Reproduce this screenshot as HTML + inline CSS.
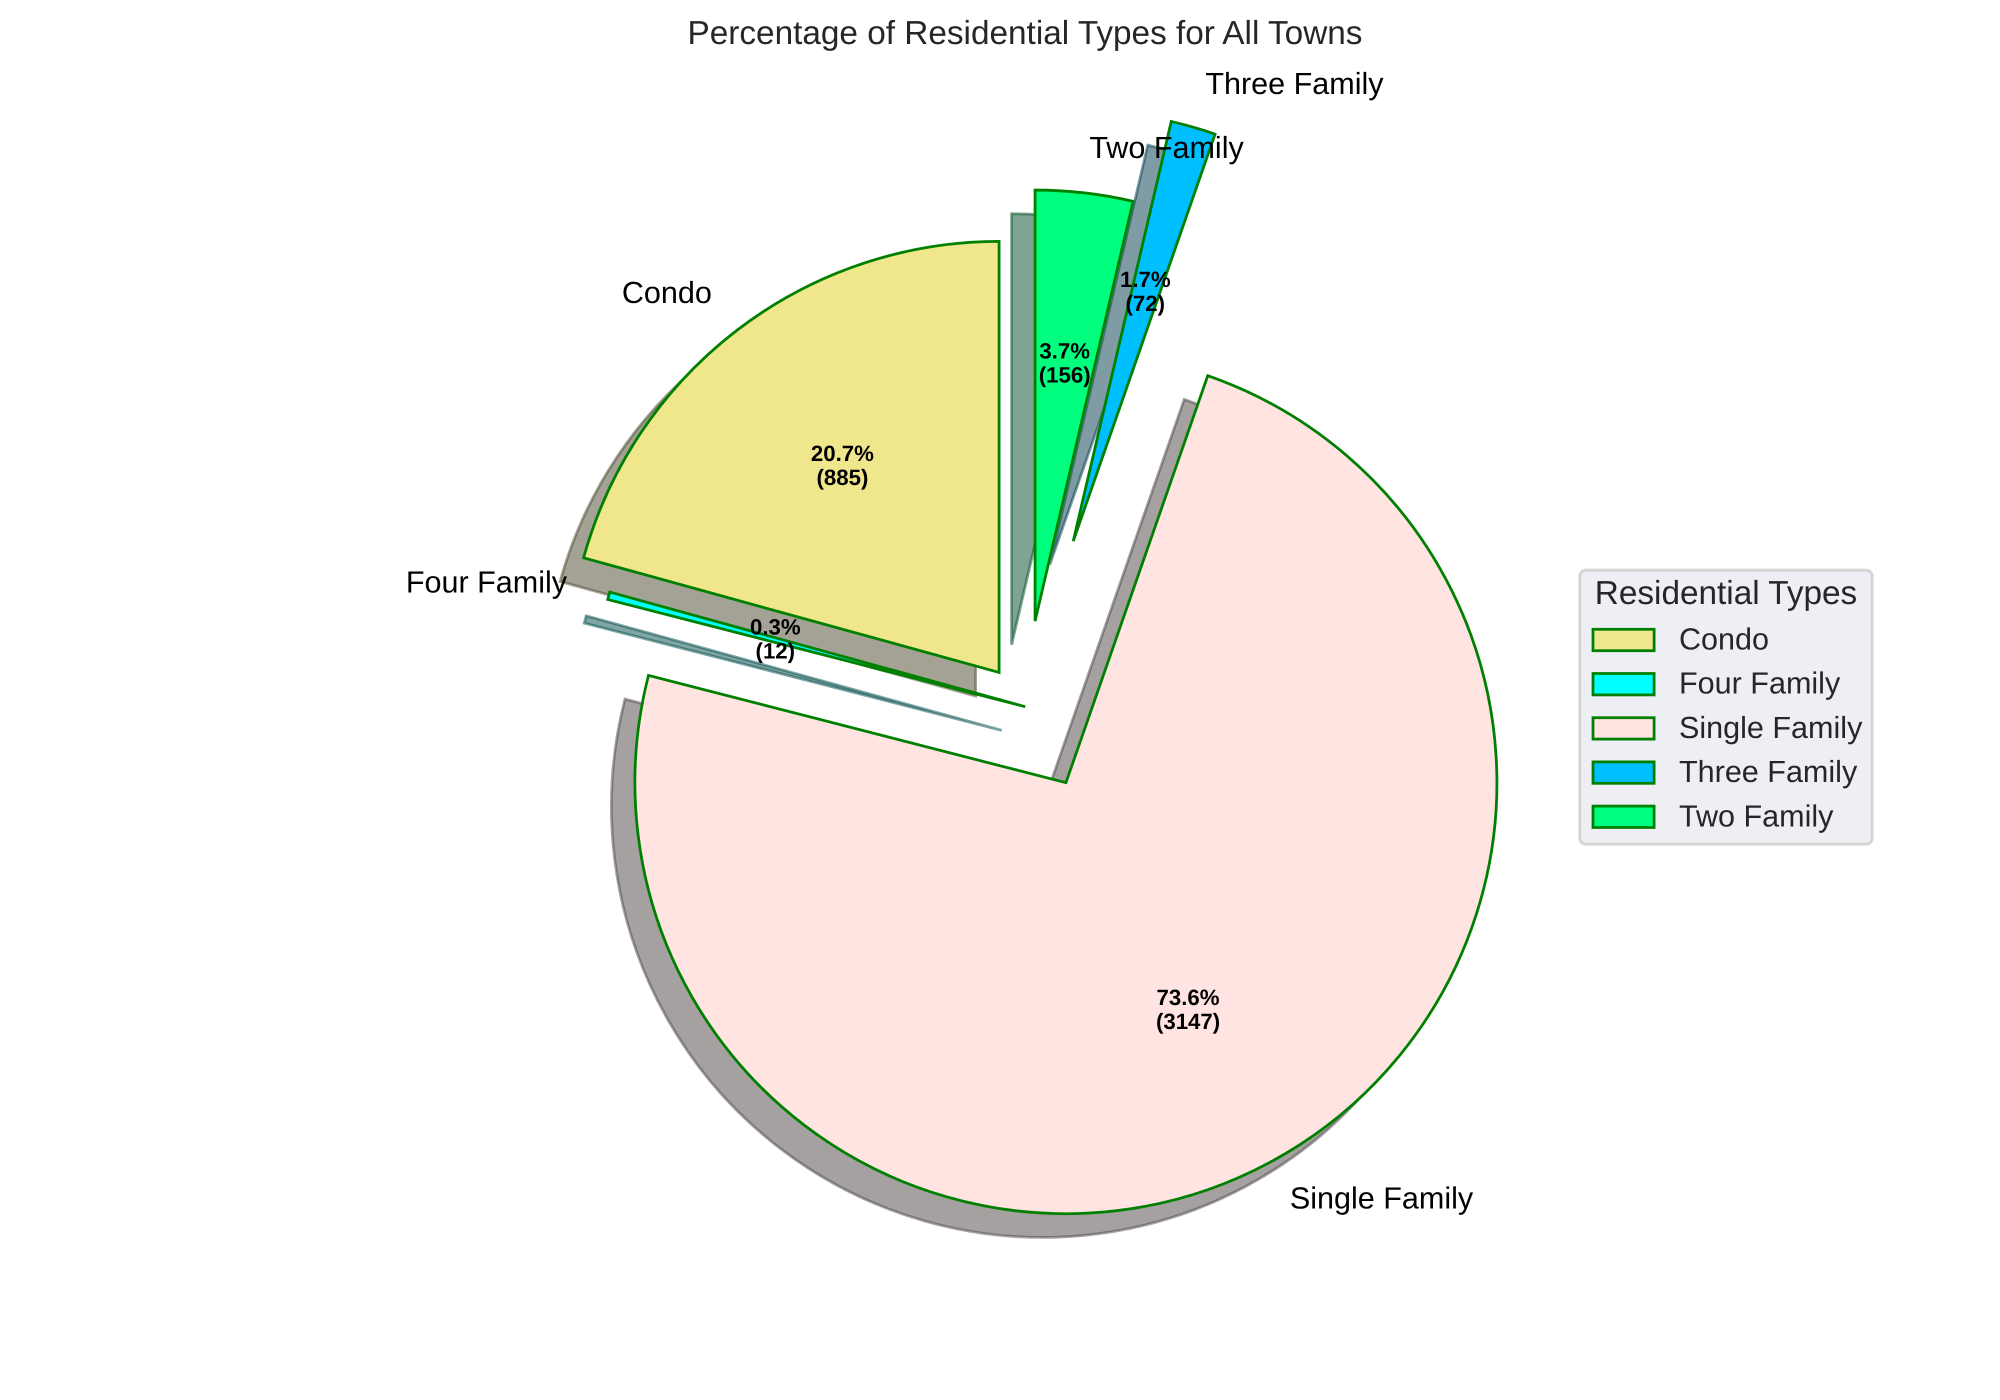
<!DOCTYPE html>
<html lang="en">
<head>
<meta charset="utf-8">
<title>Percentage of Residential Types for All Towns</title>
<style>
  html, body { margin: 0; padding: 0; background: #ffffff; }
  svg { display: block; font-family: "Liberation Sans", Arial, sans-serif; text-rendering: geometricPrecision; }
</style>
</head>
<body>
<svg id="chart" xmlns="http://www.w3.org/2000/svg" width="2000" height="1400" viewBox="0 0 2000 1400">
  <rect x="0" y="0" width="2000" height="1400" fill="#ffffff"/>
  <text x="1025" y="44" text-anchor="middle" font-size="33.33" fill="#262626">Percentage of Residential Types for All Towns</text>
  <g id="shadows"></g>
  <g id="wedges"></g>
  <g id="labels"></g>
  <g id="legend">
    <rect x="1579.8" y="570.2" width="292.4" height="274" rx="6" ry="6" fill="#EAEAF2" fill-opacity="0.8" stroke="#CCCCCC" stroke-opacity="0.8" stroke-width="2.78"/>
    <text x="1726" y="604" text-anchor="middle" font-size="33.33" fill="#262626">Residential Types</text>
  </g>
</svg>
<script>
const categories = ['Condo', 'Four Family', 'Single Family', 'Three Family', 'Two Family'];
const counts = [885, 12, 3147, 72, 156];
const percentLabels = ['20.7%', '0.3%', '73.6%', '1.7%', '3.7%'];
const explodeFractions = [0.1, 0, 0.2, 0.4, 0.2];
const sliceColors = { 'Condo': '#F0E68C', 'Four Family': '#00FFFF', 'Single Family': '#FFE4E1', 'Three Family': '#00BFFF', 'Two Family': '#00FF7F' };
const shadowColors = { 'Condo': '#48452A', 'Four Family': '#004C4C', 'Single Family': '#4C4443', 'Three Family': '#00394C', 'Two Family': '#004C26' };

const SVG_NS = 'http://www.w3.org/2000/svg';
const PIE_CX = 1025.2, PIE_CY = 706.7, PIE_R = 431;
const SHADOW_DX = -23.5, SHADOW_DY = 23.7;
const START_ANGLE = 90;
const EDGE = '#008000', EDGE_W = 2.78;

function xAt(cx, radius, deg) { return cx + radius * Math.cos(deg * Math.PI / 180); }
function yAt(cy, radius, deg) { return cy - radius * Math.sin(deg * Math.PI / 180); }
function slug(s) { return s.toLowerCase().replace(/\s+/g, '-'); }

function wedgePath(ax, ay, a0, a1) {
  const large = (a1 - a0) > 180 ? 1 : 0;
  return 'M' + ax.toFixed(2) + ' ' + ay.toFixed(2) +
    'L' + xAt(ax, PIE_R, a0).toFixed(2) + ' ' + yAt(ay, PIE_R, a0).toFixed(2) +
    'A' + PIE_R + ' ' + PIE_R + ' 0 ' + large + ' 0 ' + xAt(ax, PIE_R, a1).toFixed(2) + ' ' + yAt(ay, PIE_R, a1).toFixed(2) + 'Z';
}

const shadowsG = document.getElementById('shadows');
const wedgesG = document.getElementById('wedges');
const labelsG = document.getElementById('labels');
const legendG = document.getElementById('legend');
const total = counts.reduce(function (a, b) { return a + b; }, 0);

let angle = START_ANGLE;
categories.forEach(function (cat, i) {
  const sweep = counts[i] / total * 360;
  const a0 = angle, a1 = angle + sweep, mid = (a0 + a1) / 2;
  angle = a1;
  const ax = xAt(PIE_CX, explodeFractions[i] * PIE_R, mid);
  const ay = yAt(PIE_CY, explodeFractions[i] * PIE_R, mid);
  const name = slug(cat);

  const sh = document.createElementNS(SVG_NS, 'path');
  
  
  sh.setAttribute('d', wedgePath(ax + SHADOW_DX, ay + SHADOW_DY, a0, a1));
  sh.setAttribute('fill', shadowColors[cat]);
  sh.setAttribute('fill-opacity', '0.5');
  sh.setAttribute('stroke', shadowColors[cat]);
  sh.setAttribute('stroke-opacity', '0.5');
  sh.setAttribute('stroke-width', EDGE_W);
  sh.setAttribute('stroke-linejoin', 'miter');
  sh.setAttribute('stroke-miterlimit', '4');
  shadowsG.appendChild(sh);

  const w = document.createElementNS(SVG_NS, 'path');
  
  
  w.setAttribute('d', wedgePath(ax, ay, a0, a1));
  w.setAttribute('fill', sliceColors[cat]);
  w.setAttribute('stroke', EDGE);
  w.setAttribute('stroke-width', EDGE_W);
  w.setAttribute('stroke-linejoin', 'miter');
  w.setAttribute('stroke-miterlimit', '4');
  wedgesG.appendChild(w);

  const onLeft = xAt(0, 1, mid) < 0;
  const lab = document.createElementNS(SVG_NS, 'text');
  
  
  lab.setAttribute('x', xAt(ax, 1.1 * PIE_R, mid).toFixed(2));
  lab.setAttribute('y', (yAt(ay, 1.1 * PIE_R, mid) + 8).toFixed(2));
  lab.setAttribute('text-anchor', onLeft ? 'end' : 'start');
  lab.setAttribute('font-size', '30.56');
  lab.setAttribute('fill', '#000000');
  lab.textContent = cat;
  labelsG.appendChild(lab);

  const px = xAt(ax, 0.6 * PIE_R, mid);
  const py = yAt(ay, 0.6 * PIE_R, mid);
  const pct = document.createElementNS(SVG_NS, 'text');
  
  
  pct.setAttribute('x', px.toFixed(2));
  pct.setAttribute('y', (py - 5.8).toFixed(2));
  pct.setAttribute('text-anchor', 'middle');
  pct.setAttribute('font-size', '22.22');
  pct.setAttribute('font-weight', 'bold');
  pct.setAttribute('fill', '#000000');
  pct.textContent = percentLabels[i];
  labelsG.appendChild(pct);

  const cnt = document.createElementNS(SVG_NS, 'text');
  
  
  cnt.setAttribute('x', px.toFixed(2));
  cnt.setAttribute('y', (py + 18.2).toFixed(2));
  cnt.setAttribute('text-anchor', 'middle');
  cnt.setAttribute('font-size', '22.22');
  cnt.setAttribute('font-weight', 'bold');
  cnt.setAttribute('fill', '#000000');
  cnt.textContent = '(' + counts[i] + ')';
  labelsG.appendChild(cnt);

  const swatchCy = 640 + i * 44.2;
  const sw = document.createElementNS(SVG_NS, 'rect');
  
  
  sw.setAttribute('x', '1593');
  sw.setAttribute('y', (swatchCy - 10.7).toFixed(2));
  sw.setAttribute('width', '61.1');
  sw.setAttribute('height', '21.4');
  sw.setAttribute('fill', sliceColors[cat]);
  sw.setAttribute('stroke', EDGE);
  sw.setAttribute('stroke-width', EDGE_W);
  legendG.appendChild(sw);

  const lt = document.createElementNS(SVG_NS, 'text');
  
  
  lt.setAttribute('x', '1679');
  lt.setAttribute('y', (swatchCy + 9.5).toFixed(2));
  lt.setAttribute('font-size', '30.56');
  lt.setAttribute('fill', '#262626');
  lt.textContent = cat;
  legendG.appendChild(lt);
});
</script>
</body>
</html>
